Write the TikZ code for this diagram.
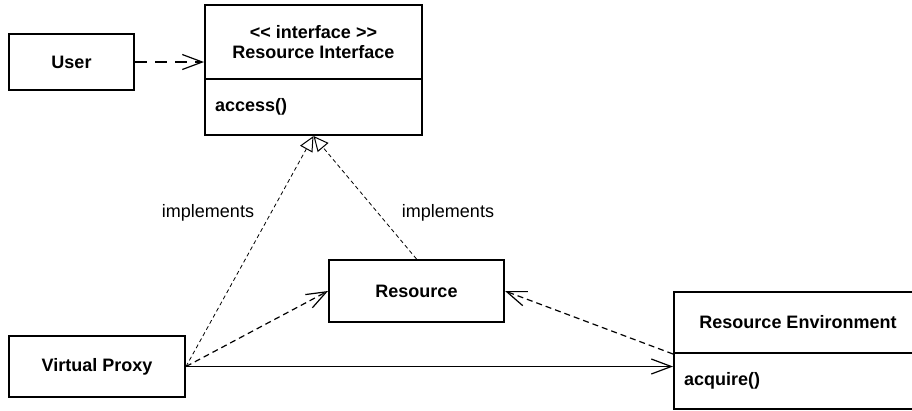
\documentclass[tikz,border=0pt]{standalone}
\usepackage{fontspec}
\setmainfont{Liberation Sans}
\usetikzlibrary{arrows.meta}
\begin{document}
\begin{tikzpicture}[x=1pt,y=-1pt,
  font=\fontsize{18}{20}\selectfont,
  box/.style={draw,line width=2pt,rectangle,inner sep=0pt,font=\fontsize{18}{20}\selectfont\bfseries},
  compbox/.style={box,inner xsep=10pt,align=left,anchor=center},
  deparrow/.style={line width=1.2pt,-{Straight Barb[length=20pt,width=15pt,line width=1.2pt]}},
  userdash/.style={deparrow,dash pattern=on 12pt off 8pt},
  depdash/.style={deparrow,dash pattern=on 6pt off 4pt},
  realize/.style={line width=0.8pt,dash pattern=on 4pt off 3pt,-{Triangle[open,length=15pt,width=14pt,line width=1pt,fill=white]}},
  assoc/.style={line width=1pt,-{Straight Barb[length=20pt,width=15pt,line width=1.2pt]}}
]
\clip (0,0) rectangle (912,410);
\fill[white] (0,0) rectangle (912,410);
% classes
\node[box,minimum width=125pt,minimum height=56pt] (user) at (71.5,62) {User};
\node[box,minimum width=217pt,minimum height=74pt,align=center] (ritop) at (313.5,42) {{<}{<} interface {>}{>}\\Resource Interface};
\node[compbox,text width=197pt,minimum height=56pt] (ribot) at (313.5,107) {access()};
\node[box,minimum width=175pt,minimum height=62pt] (res) at (416.5,291) {Resource};
\node[box,minimum width=176pt,minimum height=61pt] (vp) at (97,366.5) {Virtual Proxy};
\node[box,minimum width=248pt,minimum height=61pt] (retop) at (798,322.5) {Resource Environment};
\node[compbox,text width=228pt,minimum height=56pt] (rebot) at (798,381) {acquire()};
% labels
\node (impl1) at (208,213) {implements};
\node (impl2) at (448,213) {implements};
% connectors
\draw[userdash] (user.east) -- (user.east -| ritop.west);
\draw[realize] (vp.east) -- (ribot.south);
\draw[realize] (res.north) -- (ribot.south);
\draw[depdash] (vp.east) -- (res.west);
\draw[assoc] (vp.east) -- (vp.east -| retop.west);
\draw[depdash] (retop.south west) -- (res.east);
\end{tikzpicture}
\end{document}
